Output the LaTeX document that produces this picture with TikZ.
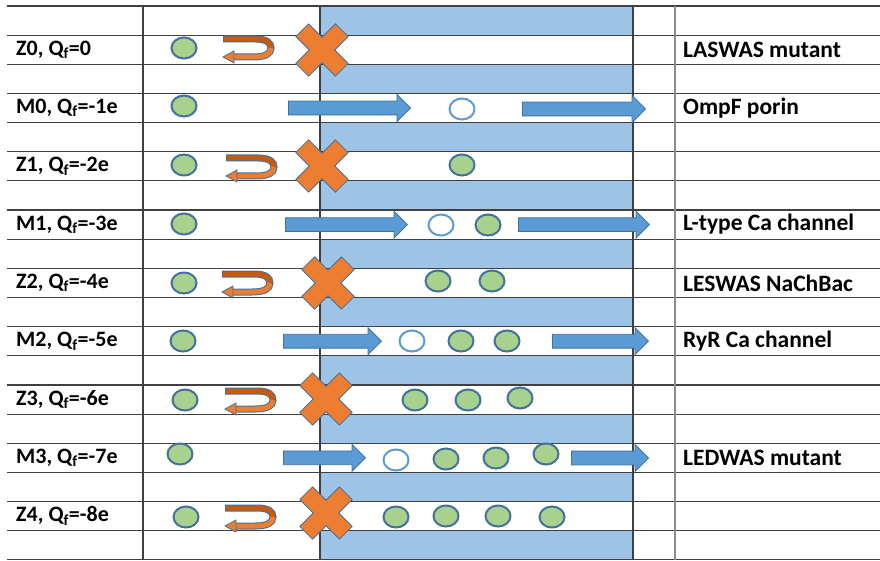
\documentclass[tikz,border=0pt]{standalone}
\usepackage{fontspec}
\setmainfont{Carlito}
\usepackage{tikz}
\usetikzlibrary{shapes.geometric,shapes.arrows}

\definecolor{bandblue}{HTML}{9DC3E6}
\definecolor{flowblue}{HTML}{5B9BD5}
\definecolor{edgeblue}{HTML}{41719C}
\definecolor{iongreen}{HTML}{A9D18E}
\definecolor{crossorange}{HTML}{ED7D31}
\definecolor{turnback}{HTML}{C55A11}
\definecolor{ruledark}{HTML}{404040}
\definecolor{rulelight}{HTML}{8C8C8C}

\begin{document}
\begin{tikzpicture}[x=1pt,y=-1pt,
ion/.style={ellipse,fill=iongreen,draw=edgeblue,line width=2pt,minimum width=25pt,minimum height=21pt,inner sep=0pt},
hole/.style={ion,fill=white,draw=flowblue},
flow/.style={single arrow,fill=flowblue,draw=edgeblue,line width=0.8pt,single arrow head extend=6.5pt,minimum width=26pt,inner sep=0pt,inner ysep=6.5pt},
rowtext/.style={anchor=west,inner sep=0pt,font=\fontsize{22}{24}\selectfont\bfseries},
nametext/.style={rowtext,font=\fontsize{23.5}{26}\selectfont\bfseries},
rule/.style={ruledark,line width=1.1pt},
nogo/.pic={\draw[fill=crossorange,draw=edgeblue,line width=0.8pt,rotate=45] (9,9) -- (28,9) -- (28,-9) -- (9,-9) -- (9,-28) -- (-9,-28) -- (-9,-9) -- (-28,-9) -- (-28,9) -- (-9,9) -- (-9,28) -- (9,28) -- cycle;},
uturn/.pic={
\draw[edgeblue,line width=7pt] (-24,-10) -- (8,-10) .. controls (20,-10) and (24,-6) .. (24,-1) .. controls (24,5) and (18,8) .. (6,8) -- (-14,8);
\draw[turnback,line width=5pt] (-23.2,-10) -- (8,-10) .. controls (20,-10) and (24,-6) .. (24,-1);
\draw[crossorange,line width=5pt] (24,-1) .. controls (24,5) and (18,8) .. (6,8) -- (-14.5,8);
\draw[fill=crossorange,draw=edgeblue,line width=0.8pt] (-13,2) -- (-24,8) -- (-13,14) -- cycle;}]
\useasboundingbox (0,0) rectangle (880,561);
\fill[white] (0,0) rectangle (880,561);
\foreach \k in {0,2,...,18}
  \fill[bandblue] (320,{6+29.15*\k}) rectangle (633,{35.15+29.15*\k});
\foreach \k in {0,...,19}
  \draw[rule] (7,{6+29.15*\k}) -- (880,{6+29.15*\k});
\draw[rule] (143,6) -- (143,560);
\draw[rule] (320,6) -- (320,560);
\draw[rule] (633,6) -- (633,560);
\draw[rulelight,line width=1.1pt] (675,6) -- (675,560);

\node[rowtext] (z0text) at (16,49.7) {Z0, Q\textsubscript{f}=0};
\node[ion] (z0ion) at (184,48) {};
\pic (z0turn) at (247,49) {uturn};
\pic (z0stop) at (322,50) {nogo};
\node[nametext] (z0name) at (683,49.7) {LASWAS mutant};

\node[rowtext] (m0text) at (16,108) {M0, Q\textsubscript{f}=-1e};
\node[ion] (m0ion) at (184,106) {};
\node[flow,minimum height=122pt] (m0in) at (346,108) {};
\node[hole] (m0hole) at (462,109) {};
\node[flow,minimum height=123pt] (m0out) at (580.5,109) {};
\node[nametext] (m0name) at (683,108) {OmpF porin};

\node[rowtext] (z1text) at (16,166.3) {Z1, Q\textsubscript{f}=-2e};
\node[ion] (z1ion) at (184,165) {};
\pic (z1turn) at (250,168) {uturn};
\pic (z1stop) at (322,166) {nogo};
\node[ion] (z1ion1) at (462,165) {};

\node[rowtext] (m1text) at (16,224.6) {M1, Q\textsubscript{f}=-3e};
\node[ion] (m1ion) at (184,224) {};
\node[flow,minimum height=122pt] (m1in) at (343,224.6) {};
\node[hole] (m1hole) at (441,225) {};
\node[ion] (m1ion1) at (488,225) {};
\node[flow,minimum height=131pt] (m1out) at (580.5,224.6) {};
\node[nametext] (m1name) at (683,224.6) {L-type Ca channel};

\node[rowtext] (z2text) at (16,282.9) {Z2, Q\textsubscript{f}=-4e};
\node[ion] (z2ion) at (184,283) {};
\pic (z2turn) at (246,284) {uturn};
\pic (z2stop) at (328,283) {nogo};
\node[ion] (z2ion1) at (438,281) {};
\node[ion] (z2ion2) at (492,281) {};
\node[nametext] (z2name) at (683,282.9) {LESWAS NaChBac};

\node[rowtext] (m2text) at (16,341.2) {M2, Q\textsubscript{f}=-5e};
\node[ion] (m2ion) at (183,341) {};
\node[flow,minimum height=98pt] (m2in) at (329,341.2) {};
\node[hole] (m2hole) at (412,341) {};
\node[ion] (m2ion1) at (461,341) {};
\node[ion] (m2ion2) at (507,341) {};
\node[flow,minimum height=96pt] (m2out) at (597,341.2) {};
\node[nametext] (m2name) at (683,341.2) {RyR Ca channel};

\node[rowtext] (z3text) at (16,399.5) {Z3, Q\textsubscript{f}=-6e};
\node[ion] (z3ion) at (185,400) {};
\pic (z3turn) at (249,401) {uturn};
\pic (z3stop) at (326,399) {nogo};
\node[ion] (z3ion1) at (415,400) {};
\node[ion] (z3ion2) at (468,400) {};
\node[ion] (z3ion3) at (520,398) {};

\node[rowtext] (m3text) at (16,457.8) {M3, Q\textsubscript{f}=-7e};
\node[ion] (m3ion) at (180,454) {};
\node[flow,minimum height=82pt] (m3in) at (321,457.8) {};
\node[hole] (m3hole) at (396,460) {};
\node[ion] (m3ion1) at (446,459) {};
\node[ion] (m3ion2) at (496,458) {};
\node[ion] (m3ion3) at (546,454) {};
\node[flow,minimum height=77pt] (m3out) at (606.5,458) {};
\node[nametext] (m3name) at (683,457.8) {LEDWAS mutant};

\node[rowtext] (z4text) at (16,516.1) {Z4, Q\textsubscript{f}=-8e};
\node[ion] (z4ion) at (186,517) {};
\pic (z4turn) at (249,518) {uturn};
\pic (z4stop) at (326,513) {nogo};
\node[ion] (z4ion1) at (396,517) {};
\node[ion] (z4ion2) at (446,516) {};
\node[ion] (z4ion3) at (498,516) {};
\node[ion] (z4ion4) at (552,517) {};
\end{tikzpicture}
\end{document}
